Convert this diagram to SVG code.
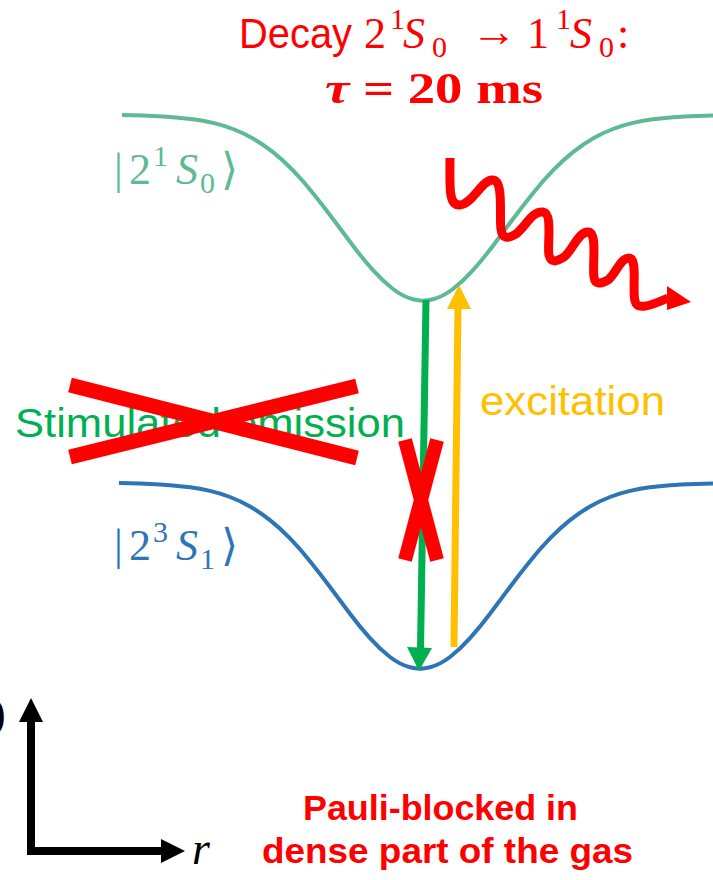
<svg xmlns="http://www.w3.org/2000/svg" width="713" height="880" viewBox="0 0 713 880">
<style>
.sans{font-family:"Liberation Sans",Arial,sans-serif}
.ser{font-family:"Liberation Serif","DejaVu Serif",serif}
.it{font-style:italic}
.red{fill:#FF0000}
.curve{fill:none;stroke-width:4}
</style>
<defs>
<path id="pot" d="M122,115 L133,115.3 Q143,115.6 153,116 Q163,116.4 173,117.15 Q183,117.9 193,119.25 Q203,120.6 213,122.9 Q223,125.2 233,129 Q243,132.8 253,138.5 Q263,144.2 273,152.15 Q283,160.1 293,170.45 Q303,180.8 313,193.15 Q323,205.5 333,218.95 Q343,232.4 353,245.7 Q363,259 373,270.2 Q383,281.4 393,289 Q403,296.6 413,299.3 Q423,302 433,299.3 Q443,296.6 453,289 Q463,281.4 473,270.2 Q483,259 493,245.7 Q503,232.4 513,218.95 Q523,205.5 533,193.15 Q543,180.8 553,170.45 Q563,160.1 573,152.15 Q583,144.2 593,138.5 Q603,132.8 613,129 Q623,125.2 633,122.9 Q643,120.6 653,119.25 Q663,117.9 673,117.15 Q683,116.4 698,115.9 L720,115.4"/>
</defs>
<g id="title" class="red">
<text class="sans" x="239" y="48" font-size="42" textLength="113" lengthAdjust="spacingAndGlyphs">Decay</text>
<text class="ser" font-size="44"><tspan x="364" y="48">2</tspan><tspan x="390" y="29" font-size="30">1</tspan><tspan x="403" y="48" class="it">S</tspan><tspan x="432" y="57" font-size="30">0</tspan></text>
<text class="ser" x="471" y="46" font-size="44" textLength="46" lengthAdjust="spacingAndGlyphs">→</text>
<text class="ser" font-size="44"><tspan x="527" y="48">1</tspan><tspan x="556" y="29" font-size="30">1</tspan><tspan x="570" y="48" class="it">S</tspan><tspan x="599" y="57" font-size="30">0</tspan><tspan x="617" y="48">:</tspan></text>
<text class="ser" x="325" y="103" font-size="44" font-weight="bold" textLength="218" lengthAdjust="spacingAndGlyphs"><tspan class="it">τ</tspan> = 20 ms</text>
</g>
<g id="upper-state">
<use href="#pot" class="curve" stroke="#5DBA93"/>
<text class="ser" font-size="44" fill="#5DBA93"><tspan x="114" y="184">|</tspan><tspan x="129" y="184">2</tspan><tspan x="153" y="166" font-size="30">1</tspan><tspan x="176" y="184" class="it">S</tspan><tspan x="200" y="193" font-size="30">0</tspan><tspan x="221" y="184">⟩</tspan></text>
</g>
<g id="lower-state">
<use href="#pot" class="curve" stroke="#2E75B6" transform="translate(-3,368)"/>
<text class="ser" font-size="44" fill="#2E75B6"><tspan x="114" y="560">|</tspan><tspan x="129" y="560">2</tspan><tspan x="153" y="542" font-size="30">3</tspan><tspan x="176" y="560" class="it">S</tspan><tspan x="200" y="569" font-size="30">1</tspan><tspan x="221" y="560">⟩</tspan></text>
</g>
<g id="stimulated-emission">
<text class="sans" x="15" y="437" font-size="41" fill="#00B050" textLength="390" lengthAdjust="spacingAndGlyphs">Stimulated emission</text>
<line x1="70" y1="385" x2="357" y2="458" stroke="#FF0000" stroke-width="15"/>
<line x1="70" y1="457" x2="357" y2="386" stroke="#FF0000" stroke-width="15"/>
</g>
<g id="excitation-label">
<text class="sans" x="480" y="415" font-size="41" fill="#FFC000" textLength="185" lengthAdjust="spacingAndGlyphs">excitation</text>
</g>
<g id="connectors">
<line x1="426" y1="300" x2="420.5" y2="650" stroke="#00B050" stroke-width="7"/>
<polygon points="419,671 407,647 432,648" fill="#00B050"/>
<line x1="454" y1="647" x2="458" y2="305" stroke="#FFC000" stroke-width="7"/>
<polygon points="459,285 447,309 471,309" fill="#FFC000"/>
<line x1="405" y1="440" x2="437" y2="560" stroke="#FF0000" stroke-width="14"/>
<line x1="437" y1="440" x2="405" y2="560" stroke="#FF0000" stroke-width="14"/>
<path d="M450,158 C450,186 448,206 460,205 C473,204 482,179 493,180 C504,181 499,216 501,229 C502,239 508,239 516,234 C526,226 532,211 543,212 C553,213 547,246 549,255 C551,263 556,262 564,257 C573,250 578,232 588,232 C598,232 592,266 594,277 C595,285 601,284 608,280 C616,274 620,258 629,258 C638,258 632,291 635,301 C637,309 646,308 668,298" fill="none" stroke="#FF0000" stroke-width="9" stroke-linejoin="round"/>
<polygon points="691,302 667,286 667,310" fill="#FF0000"/>
</g>
<g id="axes">
<line x1="31" y1="855" x2="31" y2="718" stroke="#000" stroke-width="8"/>
<polygon points="31,698 19,722 43,722" fill="#000"/>
<line x1="27" y1="851" x2="163" y2="851" stroke="#000" stroke-width="8"/>
<polygon points="185,851 161,839 161,863" fill="#000"/>
<text class="ser it" x="192" y="864" font-size="46">r</text>
<text class="ser" x="-9" y="728" font-size="44">)</text>
</g>
<g id="note" class="red sans" font-weight="bold" font-size="35">
<text x="303" y="820" textLength="275" lengthAdjust="spacingAndGlyphs">Pauli-blocked in</text>
<text x="262" y="863" textLength="371" lengthAdjust="spacingAndGlyphs">dense part of the gas</text>
</g>
</svg>
